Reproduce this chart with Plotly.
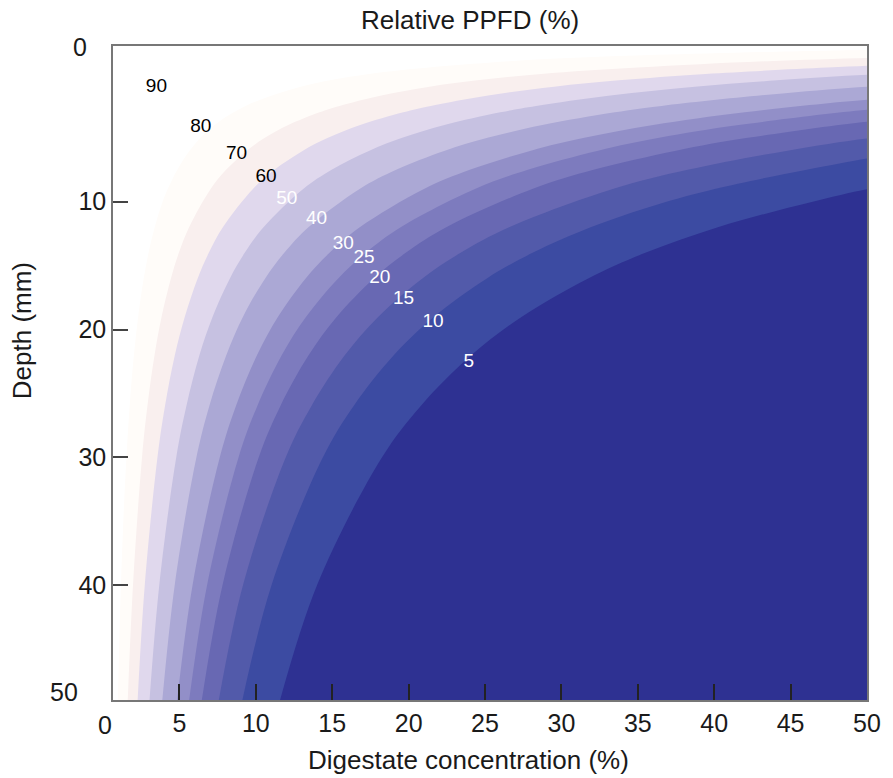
import plotly.graph_objects as go

# Contour levels (relative PPFD, %) and fill colours (band just below each level)
levels = [90, 80, 70, 60, 50, 40, 30, 25, 20, 15, 10, 5]
band_colors = ["#ffffff", "#fffcf9", "#f9efee", "#e0d8ed", "#c6c1e1", "#aba8d5",
               "#928fc8", "#7d7bbe", "#6868b3", "#525aaa", "#3c4ba2", "#2e3192"]
label_colors = ["black", "black", "black", "black", "white", "white",
                "white", "white", "white", "white", "white", "white"]

# Contour lines: digestate concentration (%) vs depth (mm)
c90_x = [0.27, 0.42, 0.74, 1.17, 2.0, 3.5, 4.67, 7.0, 9.33, 14.0, 28.0, 51.0]
c90_y = [49.5, 30, 16, 9, 4, 1, 0, -1, -1.5, -2, -2.5, -2.72]
c80_x = [0.96, 1.17, 1.53, 2.02, 2.66, 3.38, 4.23, 5.66, 7.3, 9.33, 12.93, 17.4, 26.6, 36.2, 51.0]
c80_y = [49.5, 40, 30, 22, 16, 12, 9, 6, 4, 2.5, 1, 0, -1, -1.5, -1.9]
c70_x = [1.6, 1.96, 2.55, 2.9, 3.37, 3.83, 4.44, 4.96, 5.63, 7.04, 8.05, 9.41, 10.59, 12.12,
         14.17, 15.47, 18.14, 21.37, 24.49, 28.67, 34.99, 43.5, 51.0]
c70_y = [49.5, 40, 30, 26, 22, 19, 16, 14, 12, 9, 7.5, 6, 5, 4,
         3, 2.5, 1.7, 1, 0.5, 0, -0.5, -1, -1.28]
c60_x = [2.24, 2.73, 3.56, 4.05, 4.7, 5.35, 6.19, 6.92, 7.84, 9.81, 11.21, 13.08, 14.72, 16.83,
         19.65, 21.44, 25.1, 29.52, 33.76, 39.43, 47.4, 51.0]
c60_y = [49.5, 40, 30, 26, 22, 19, 16, 14, 12, 9, 7.5, 6, 5, 4,
         3, 2.5, 1.7, 1, 0.5, 0, -0.5, -0.68]
c50_x = [3.01, 3.68, 4.79, 5.45, 6.31, 7.17, 8.3, 9.27, 10.5, 13.1, 14.96, 17.43, 19.58, 22.34,
         26.0, 28.34, 33.07, 38.73, 44.1, 51.0]
c50_y = [49.5, 40, 30, 26, 22, 19, 16, 14, 12, 9, 7.5, 6, 5, 4,
         3, 2.5, 1.7, 1, 0.5, 0.02]
c40_x = [3.84, 4.69, 6.11, 6.95, 8.07, 9.16, 10.61, 11.86, 13.44, 16.79, 19.18, 22.37, 25.16,
         28.75, 33.5, 36.56, 44.65, 51.0]
c40_y = [49.5, 40, 30, 26, 22, 19, 16, 14, 12, 9, 7.5, 6, 5,
         4, 3, 2.5, 1.5, 0.94]
c30_x = [4.8, 5.86, 7.64, 8.69, 10.08, 11.45, 13.26, 14.82, 16.8, 21.0, 24.0, 28.0, 31.5,
         36.0, 42.0, 51.0]
c30_y = [49.5, 40, 30, 26, 22, 19, 16, 14, 12, 9, 7.5, 6, 5,
         4, 3, 1.94]
c25_x = [5.58, 6.81, 8.87, 10.09, 11.7, 13.29, 15.39, 17.19, 19.48, 24.34, 27.8, 32.4, 36.4,
         41.6, 51.0]
c25_y = [49.5, 40, 30, 26, 22, 19, 16, 14, 12, 9, 7.5, 6, 5,
         4, 2.71]
c20_x = [6.4, 7.82, 10.19, 11.6, 13.46, 15.3, 17.72, 19.81, 22.46, 28.09, 32.1, 37.5, 42.2, 51.0]
c20_y = [49.5, 40, 30, 26, 22, 19, 16, 14, 12, 9, 7.5, 6, 5, 3.63]
c15_x = [7.5, 9.16, 11.96, 13.63, 15.83, 18.02, 20.9, 23.4, 26.57, 33.36, 38.25, 44.8, 51.0]
c15_y = [49.5, 40, 30, 26, 22, 19, 16, 14, 12, 9, 7.5, 6, 4.94]
c10_x = [9.03, 11.03, 14.39, 16.39, 19.04, 21.66, 25.12, 28.11, 31.91, 35.5, 40.03, 48.2, 51.0]
c10_y = [49.5, 40, 30, 26, 22, 19, 16, 14, 12, 10.5, 9, 7, 6.46]
c5_x = [11.47, 14.01, 18.26, 20.78, 24.11, 27.41, 31.75, 35.49, 40.24, 46.45, 51.0]
c5_y = [49.5, 40, 30, 26, 22, 19, 16, 14, 12, 10, 8.85]

# Label positions on the contours
label_x = [3.49, 6.40, 8.73, 10.67, 12.03, 13.97, 15.72, 17.08, 18.11, 19.66, 21.60, 23.93]
label_y = [1.02, 4.15, 6.26, 8.07, 9.79, 11.35, 13.31, 14.41, 15.98, 17.62, 19.42, 22.55]

contours_x = [c90_x, c80_x, c70_x, c60_x, c50_x, c40_x, c30_x, c25_x, c20_x, c15_x, c10_x, c5_x]
contours_y = [c90_y, c80_y, c70_y, c60_y, c50_y, c40_y, c30_y, c25_y, c20_y, c15_y, c10_y, c5_y]

x_ticks = [5, 10, 15, 20, 25, 30, 35, 40, 45, 50]
y_ticks = [10, 20, 30, 40]

fig = go.Figure()
for cx, cy, col in zip(contours_x, contours_y, band_colors):
    px = list(cx) + [53, 53, cx[0]]
    py = list(cy) + [cy[-1], 53, 53]
    fig.add_trace(go.Scatter(x=px, y=py, mode="lines", fill="toself",
                             fillcolor=col, line=dict(width=0, color=col, shape="spline", smoothing=1.0),
                             hoverinfo="skip", showlegend=False))

fig.add_trace(go.Scatter(x=label_x, y=label_y, mode="text",
                         text=[str(v) for v in levels],
                         textfont=dict(family="Liberation Sans, Arial", size=19, color=label_colors),
                         showlegend=False, hoverinfo="skip"))

font = dict(family="Liberation Sans, Arial", size=25, color="#1a1a1a")
tfont = dict(family="Liberation Sans, Arial", size=26, color="#1a1a1a")
fig.update_layout(
    width=893, height=778,
    margin=dict(l=113, r=17, t=46, b=78),
    paper_bgcolor="white", plot_bgcolor="white",
    font=font,
    showlegend=False,
    xaxis=dict(range=[0.65, 50], tickvals=x_ticks, ticks="inside", ticklen=16,
               tickcolor="#222", tickwidth=1.5, showline=True, mirror=True,
               linecolor="#777", linewidth=1.5, showgrid=False, zeroline=False,
               tickfont=font),
    yaxis=dict(range=[49.0, -2.19], tickvals=y_ticks, ticks="inside", ticklen=15,
               tickcolor="#444", tickwidth=1.5, showline=True, mirror=True,
               linecolor="#777", linewidth=1.5, showgrid=False, zeroline=False,
               tickfont=font),
    annotations=[
        dict(text="Relative PPFD (%)", xref="paper", yref="paper", x=0.4738, y=1.0, yshift=26,
             showarrow=False, font=tfont, xanchor="center", yanchor="middle"),
        dict(text="Digestate concentration (%)", xref="paper", yref="paper", x=0.4718, y=-0.0917,
             showarrow=False, font=tfont, xanchor="center", yanchor="middle"),
        dict(text="Depth (mm)", xref="paper", yref="paper", x=-0.1206, y=0.564, textangle=-90,
             showarrow=False, font=tfont, xanchor="center", yanchor="middle"),
        dict(text="0", xref="paper", yref="paper", x=-0.0105, y=-0.0382, showarrow=False,
             font=font, xanchor="center", yanchor="middle"),
        dict(text="0", xref="paper", yref="paper", x=-0.0433, y=0.9985, showarrow=False,
             font=font, xanchor="center", yanchor="middle"),
        dict(text="50", xref="paper", yref="paper", x=-0.0655, y=0.0122, showarrow=False,
             font=font, xanchor="center", yanchor="middle"),
    ],
)

fig.write_html("out.html", config={"displayModeBar": False},
               post_script="document.body.style.margin='0';document.body.style.overflow='hidden';")
